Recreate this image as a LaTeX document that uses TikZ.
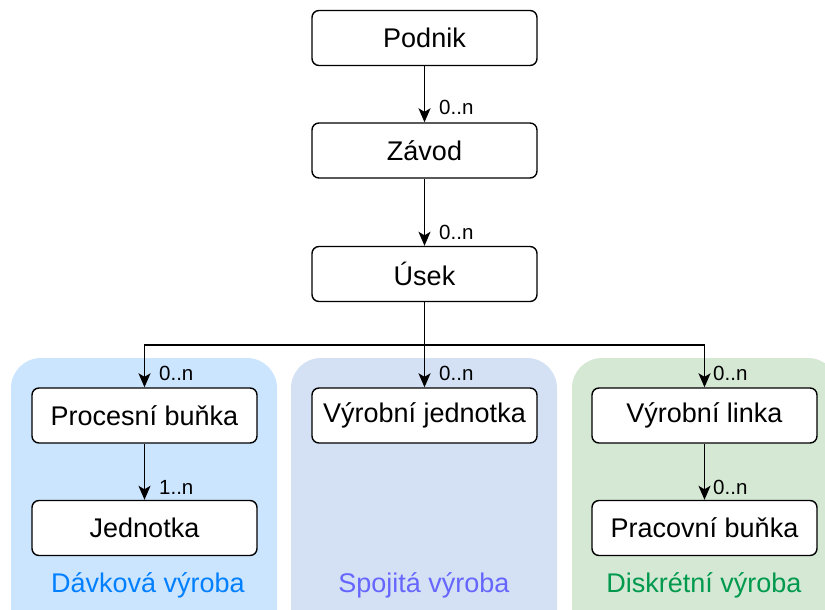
\documentclass[tikz,border=0pt]{standalone}
\usepackage{fontspec}
\setmainfont{Liberation Sans}
\usetikzlibrary{arrows.meta}
\definecolor{batchfill}{HTML}{CCE5FF}
\definecolor{contfill}{HTML}{D4E1F5}
\definecolor{discfill}{HTML}{D5E8D4}
\definecolor{batchtext}{HTML}{007FFF}
\definecolor{conttext}{HTML}{6666FF}
\definecolor{disctext}{HTML}{00994D}
\tikzset{
  entity/.style={draw=black, fill=white, line width=1.4pt, rounded corners=7pt,
    minimum width=225pt, minimum height=55pt, inner sep=0pt,
    font=\fontsize{27}{32}\selectfont},
  panel/.style={rounded corners=30pt},
  conn/.style={line width=1.5pt, -{Stealth[length=14pt,width=12pt,inset=3.5pt]}},
  plainconn/.style={line width=1.5pt},
  mult/.style={anchor=west, inner sep=0pt, font=\fontsize{20.5}{24}\selectfont},
  paneltitle/.style={inner sep=0pt, font=\fontsize{27}{32}\selectfont}
}
\begin{document}
\begin{tikzpicture}[x=1pt, y=-1pt]
\useasboundingbox (0,0) rectangle (825,610);
\clip (0,0) rectangle (825,610);

% production-type groups
\fill[batchfill, panel] (11,358) rectangle (277,640);
\fill[contfill, panel] (291,358) rectangle (557,640);
\fill[discfill, panel] (572,358) rectangle (838,640);
\node[paneltitle, text=batchtext] (tbatch) at (148,585) {Dávková výroba};
\node[paneltitle, text=conttext] (tcont) at (424,585) {Spojitá výroba};
\node[paneltitle, text=disctext] (tdisc) at (704,585) {Diskrétní výroba};

% hierarchy
\node[entity] (podnik) at (424.5,38) {Podnik};
\node[entity] (zavod) at (424.5,150.5) {Závod};
\node[entity] (usek) at (424.5,274) {Úsek};
\node[entity] (procesni) at (144.5,415.5) {Procesní buňka};
\node[entity] (jednotka) at (144.5,528) {Jednotka};
\node[entity] (vyrjed) at (424.5,415.5) {Výrobní jednotka};
\node[entity] (linka) at (704.5,415.5) {Výrobní linka};
\node[entity] (pracovni) at (704.5,528) {Pracovní buňka};

\coordinate (fork) at (424.5,345);

\draw[conn] (podnik) -- (zavod);
\draw[conn] (zavod) -- (usek);
\draw[plainconn] (usek) -- (fork);
\draw[conn] (fork) -| (procesni.north);
\draw[conn] (fork) -- (vyrjed);
\draw[conn] (fork) -| (linka.north);
\draw[conn] (procesni) -- (jednotka);
\draw[conn] (linka) -- (pracovni);

% multiplicities
\node[mult] (m1) at (439,107) {0..n};
\node[mult] (m2) at (439,232) {0..n};
\node[mult] (m3) at (159,373) {0..n};
\node[mult] (m4) at (439,373) {0..n};
\node[mult] (m5) at (713,373) {0..n};
\node[mult] (m6) at (159,487) {1..n};
\node[mult] (m7) at (713,487) {0..n};
\end{tikzpicture}
\end{document}
